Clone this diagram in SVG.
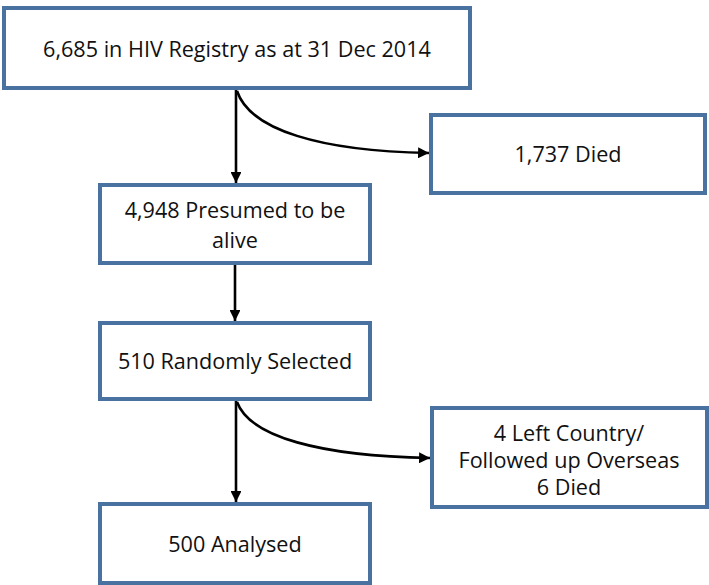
<svg xmlns="http://www.w3.org/2000/svg" width="709" height="585" viewBox="0 0 709 585">
<style>
.box{fill:#ffffff;stroke:#4a72a0;stroke-width:4}
.t{font-family:"Open Sans","Noto Sans",sans-serif;font-size:21.6px;fill:#111111;text-anchor:middle}
.c{fill:none;stroke:#000000;stroke-width:2.6}
</style>
<defs>
<marker id="ah" viewBox="0 0 10 10" refX="10" refY="5" markerWidth="4.2" markerHeight="4.2" markerUnits="strokeWidth" orient="auto">
<path d="M0,0 L10,5 L0,10 Z" fill="#000000"/>
</marker>
</defs>
<rect width="709" height="585" fill="#ffffff"/>
<g id="connectors">
<path class="c" d="M236,90 L236,183" marker-end="url(#ah)"/>
<path class="c" d="M237,91 C250,130 320,151 429,153" marker-end="url(#ah)"/>
<path class="c" d="M235,265 L235,321" marker-end="url(#ah)"/>
<path class="c" d="M236,401 L236,502" marker-end="url(#ah)"/>
<path class="c" d="M237,402 C250,437 320,456 430,458" marker-end="url(#ah)"/>
</g>
<g id="n1">
<rect class="box" x="4" y="8" width="466" height="80"/>
<text class="t" x="237" y="57">6,685 in HIV Registry as at 31 Dec 2014</text>
</g>
<g id="n2">
<rect class="box" x="431" y="115" width="274" height="78"/>
<text class="t" x="568" y="162">1,737 Died</text>
</g>
<g id="n3">
<rect class="box" x="100" y="185" width="270" height="78"/>
<text class="t" x="235" y="218">4,948 Presumed to be</text>
<text class="t" x="235" y="248">alive</text>
</g>
<g id="n4">
<rect class="box" x="100" y="323" width="270" height="76"/>
<text class="t" x="235" y="369">510 Randomly Selected</text>
</g>
<g id="n5">
<rect class="box" x="432" y="408" width="275" height="99"/>
<text class="t" x="569" y="441">4 Left Country/</text>
<text class="t" x="569" y="468">Followed up Overseas</text>
<text class="t" x="569" y="495">6 Died</text>
</g>
<g id="n6">
<rect class="box" x="100" y="504" width="270" height="79"/>
<text class="t" x="235" y="552">500 Analysed</text>
</g>
</svg>
